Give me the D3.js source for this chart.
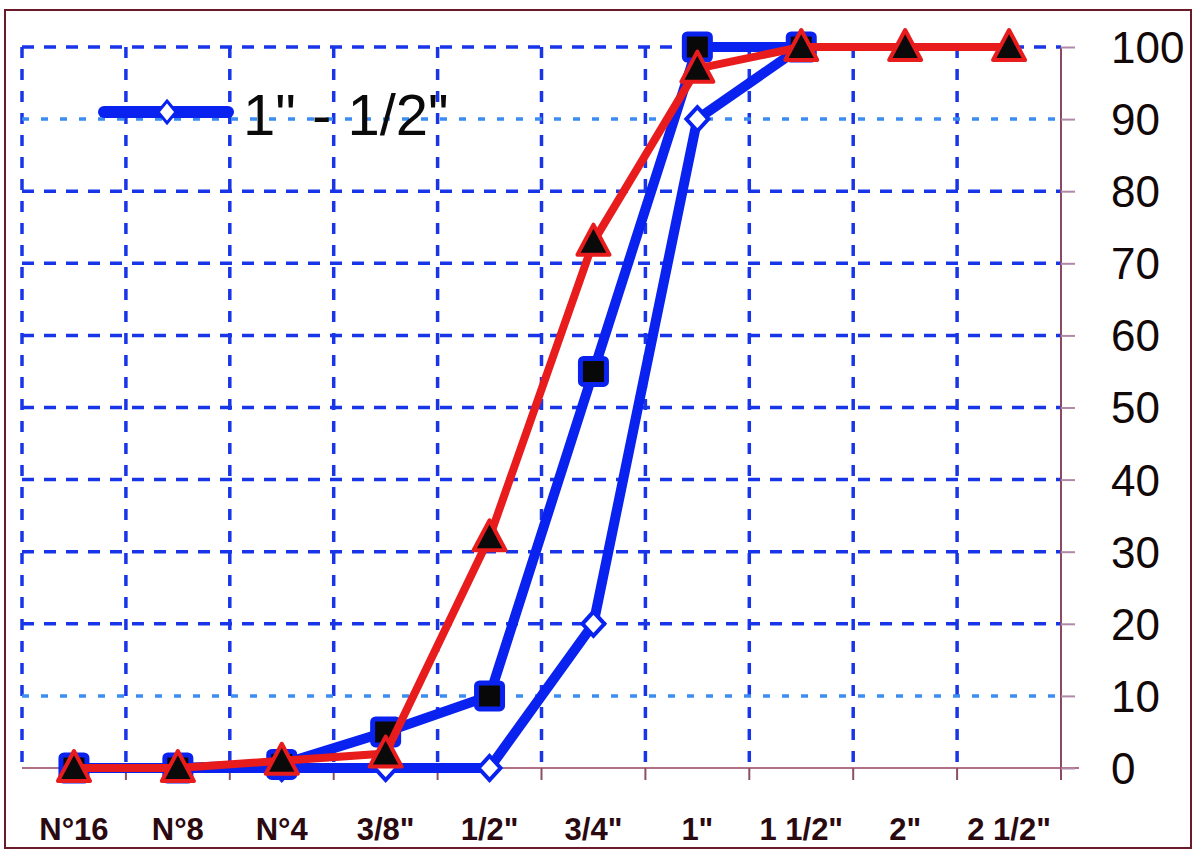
<!DOCTYPE html>
<html><head><meta charset="utf-8">
<script src="https://cdn.jsdelivr.net/npm/d3@7"></script>
<style>html,body{margin:0;padding:0;background:#fff}svg{display:block}</style>
</head><body>
<svg id="c" width="1196" height="855"></svg>
<script>
const categories = ["N°16","N°8","N°4","3/8\"","1/2\"","3/4\"","1\"","1 1/2\"","2\"","2 1/2\""];
const seriesDiamond = [0,0,0,0,0,20,90,100];          // 1" - 1/2"
const seriesSquare  = [0,0,0.5,5,10,55,100,100];
const seriesTriangle= [0,0,1,2,32,73,97,100,100,100];
const yTicks = [0,10,20,30,40,50,60,70,80,90,100];
const legendLabel = "1\" - 1/2\"";

(function(){
const svg = d3.select("#c");
const W = 1196, H = 855;
const pL = 22, pR = 1061, pT = 47, pB = 768;
const x = d3.scaleBand().domain(categories).range([pL, pR]);
const y = d3.scaleLinear().domain([0,100]).range([pB, pT]);
const cx = c => x(c) + x.bandwidth()/2;

svg.append("rect").attr("width",W).attr("height",H).attr("fill","#fff");
// outer border
svg.append("rect").attr("x",5).attr("y",10).attr("width",1186).attr("height",838)
  .attr("fill","none").attr("stroke","#6b1a2a").attr("stroke-width",2);

const dark = "#1836e8", light = "#3b8df2";
// vertical gridlines
svg.append("g").selectAll("line").data(categories).join("line")
  .attr("x1",d=>x(d)).attr("x2",d=>x(d)).attr("y1",pT).attr("y2",pB)
  .attr("stroke",dark).attr("stroke-width",3.5).attr("stroke-dasharray","11,11");
// horizontal gridlines
svg.append("g").selectAll("line").data(yTicks.filter(v=>v>0)).join("line")
  .attr("x1",pL).attr("x2",pR).attr("y1",d=>y(d)).attr("y2",d=>y(d))
  .attr("stroke",d=>(d===90||d===10)?light:dark).attr("stroke-width",3.5)
  .attr("stroke-dasharray",d=>(d===90||d===10)?"7,12":"12,10");

// x axis line and ticks at band edges
svg.append("line").attr("x1",pL).attr("x2",pR+18).attr("y1",pB).attr("y2",pB)
  .attr("stroke","#b07088").attr("stroke-width",2);
svg.append("g").selectAll("line").data(categories.slice(1).concat(["__end"])).join("line")
  .attr("x1",d=>d==="__end"?pR:x(d)).attr("x2",d=>d==="__end"?pR:x(d))
  .attr("y1",pB).attr("y2",pB+12).attr("stroke","#8a5060").attr("stroke-width",2);

// right axis
const ya = d3.axisRight(y).tickValues(yTicks).tickSize(14).tickPadding(36).tickFormat(d3.format("d"));
const yg = svg.append("g").attr("transform",`translate(${pR},0)`).call(ya);
yg.select(".domain").attr("stroke","#8a4a66").attr("stroke-width",2)
  .attr("d",`M0,${pT}V${pB+12}`);
yg.selectAll(".tick line").attr("stroke","#b088a8").attr("stroke-width",2);
yg.selectAll(".tick text").attr("font-family","'Liberation Sans', Arial, sans-serif")
  .attr("font-size",44).attr("fill","#120808").attr("dy","0.35em");

// bottom labels
const xa = d3.axisBottom(x).tickSize(0).tickPadding(50);
const xg = svg.append("g").attr("transform",`translate(0,${pB})`).call(xa);
xg.select(".domain").remove();
xg.selectAll(".tick text").attr("font-family","'Liberation Sans', Arial, sans-serif")
  .attr("font-size",31).attr("font-weight","bold").attr("fill","#2a0a10");

const line = d3.line().x((d,i)=>cx(categories[i])).y(d=>y(d));
const blue = "#0a22f0", red = "#e81c1c";

function series(vals, color, sw, marker){
  const g = svg.append("g");
  g.append("path").datum(vals).attr("d",line).attr("fill","none")
    .attr("stroke",color).attr("stroke-width",sw).attr("stroke-linejoin","round");
  const pts = g.selectAll("g.m").data(vals).join("g")
    .attr("transform",(d,i)=>`translate(${cx(categories[i])},${y(d)})`);
  marker(pts);
}
series(seriesDiamond, blue, 10, s=>s.append("path")
  .attr("d","M0,-12L11,0L0,12L-11,0Z").attr("fill","#fff").attr("stroke",blue).attr("stroke-width",4));
series(seriesSquare, blue, 10, s=>s.append("rect")
  .attr("x",-13).attr("y",-13).attr("width",26).attr("height",26).attr("rx",3)
  .attr("fill","#080808").attr("stroke",blue).attr("stroke-width",5));
series(seriesTriangle, red, 8, s=>s.append("path")
  .attr("d","M0,-17L16,13L-16,13Z").attr("fill","#0a0a0a").attr("stroke",red)
  .attr("stroke-width",4).attr("stroke-linejoin","round"));

// legend
const lg = svg.append("g");
lg.append("line").attr("x1",104).attr("x2",228).attr("y1",112).attr("y2",112)
  .attr("stroke",blue).attr("stroke-width",12).attr("stroke-linecap","round");
lg.append("path").attr("transform","translate(167,112)").attr("d","M0,-11L9,0L0,11L-9,0Z")
  .attr("fill","#fff").attr("stroke",blue).attr("stroke-width",3);
lg.append("text").attr("x",243).attr("y",135).text(legendLabel)
  .attr("font-family","'Liberation Sans', Arial, sans-serif").attr("font-size",58).attr("fill","#0a0a0a");
})();
</script>
</body></html>
